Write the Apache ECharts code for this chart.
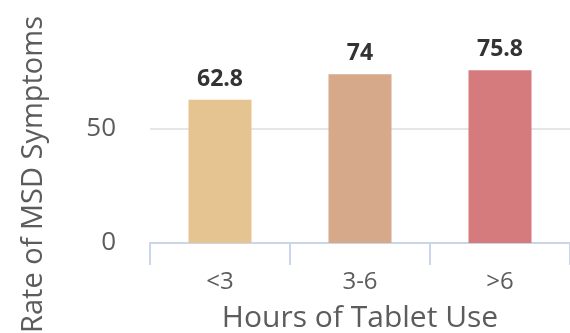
<!DOCTYPE html>
<html>
<head>
<meta charset="utf-8">
<script src="https://cdn.jsdelivr.net/npm/echarts@6/dist/echarts.min.js"></script>
<style>
  html, body { margin: 0; padding: 0; background: #ffffff; }
  #chart { width: 570px; height: 333px; }
</style>
</head>
<body>
<div id="chart"></div>
<script>
// Hours of tablet use vs. rate of musculoskeletal (MSD) symptoms
const categories = ['<3', '3-6', '>6'];
const rates = [62.8, 74, 75.8];
const barColors = ['#e5c492', '#d5a98a', '#d57b7d'];

const FONT = '"Open Sans", "DejaVu Sans", sans-serif';

const chart = echarts.init(document.getElementById('chart'), null, { renderer: 'canvas' });

chart.setOption({
  animation: false,
  backgroundColor: '#ffffff',
  grid: { left: 150, right: 0, top: 15, bottom: 90, outerBoundsMode: 'none' },
  xAxis: {
    type: 'category',
    data: categories,
    name: 'Hours of Tablet Use',
    nameLocation: 'middle',
    nameGap: 60,
    nameTextStyle: { fontFamily: FONT, fontSize: 30, color: '#5c5c5c' },
    axisLine: { lineStyle: { color: '#ccd6eb', width: 2 } },
    axisTick: { show: true, length: 22, lineStyle: { color: '#ccd6eb', width: 2 } },
    axisLabel: { fontFamily: FONT, fontSize: 24, color: '#5c5c5c', margin: 27 }
  },
  yAxis: {
    type: 'value',
    min: 0,
    max: 100,
    interval: 50,
    name: 'Rate of MSD Symptoms',
    nameLocation: 'middle',
    nameGap: 102,
    nameTextStyle: { fontFamily: FONT, fontSize: 29, color: '#5c5c5c', padding: [0, 91, 0, 0] },
    axisLine: { show: false },
    axisTick: { show: false },
    axisLabel: { fontFamily: FONT, fontSize: 26, color: '#5c5c5c', margin: 34, showMaxLabel: false },
    splitLine: { lineStyle: { color: ['#e6e6e6', '#e6e6e6', 'rgba(0,0,0,0)'], width: 2 } }
  },
  series: [{
    type: 'bar',
    data: rates.map((v, i) => ({ value: v, itemStyle: { color: barColors[i] } })),
    barWidth: '45%',
    label: {
      show: true,
      position: 'top',
      distance: 9,
      fontFamily: FONT,
      fontSize: 23,
      fontWeight: 'bold',
      color: '#333333'
    }
  }]
});
</script>
</body>
</html>
